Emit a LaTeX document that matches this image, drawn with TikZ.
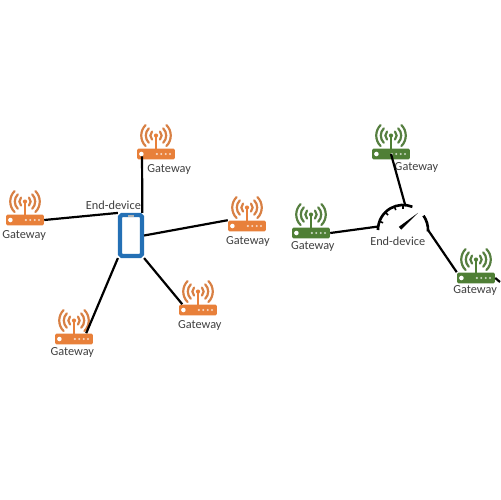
\documentclass[tikz,border=0pt]{standalone}
\usepackage{fontspec}
\setmainfont{Carlito}
\usepackage{xcolor}
\usetikzlibrary{arrows.meta, positioning}
\definecolor{gwOrange}{HTML}{E8803A}
\definecolor{gwGreen}{HTML}{4F7F35}
\definecolor{phoneBlue}{HTML}{2470B5}
\definecolor{textGray}{HTML}{404040}

\tikzset{
  pics/gateway/.style={code={
    \node[gwbody, fill=#1] (-body) at (0,0) {};
    \fill[white] (-8.3pt,0) circle (1.3pt);
    \foreach \dotx in {0.5,3,5.5,8}
      \fill[white!70!#1] (\dotx pt,0) circle (0.65pt);
    \draw[#1, line width=1.2pt] (0,2.8pt) -- (0,10.5pt);
    \fill[#1] (0,10.5pt) circle (1.2pt);
    \foreach \rad in {3.2,5.8,8.4} {
      \draw[#1!85!gray, line width=1.25pt, line cap=round]
        (0,10.5pt) ++(45:\rad pt) arc[start angle=45, end angle=-45, radius=\rad pt];
      \draw[#1!85!gray, line width=1.25pt, line cap=round]
        (0,10.5pt) ++(135:\rad pt) arc[start angle=135, end angle=225, radius=\rad pt];
    }
  }},
}

\begin{document}
\begin{tikzpicture}[
  x=0.02cm, y=-0.02cm,
  gwbody/.style={rounded corners=0.8pt, minimum width=21.5pt, minimum height=6.2pt, inner sep=0pt},
  gwlabel/.style={font=\fontsize{7}{8}\selectfont, text=textGray, inner sep=0pt},
  phonebox/.style={draw=phoneBlue, fill=white, line width=2.4pt, rounded corners=1pt,
                   minimum width=12.5pt, minimum height=23.3pt, inner sep=0pt},
  gaugebox/.style={circle, minimum size=28.5pt, inner sep=0pt, outer sep=0pt},
  wire/.style={black, line width=1.25pt},
]
  \useasboundingbox (0,0) rectangle (500,500);

  % left group
  \pic (gwtop)   at (156,154) {gateway=gwOrange};
  \pic (gwleft)  at (25,220)  {gateway=gwOrange};
  \pic (gwright) at (247,226) {gateway=gwOrange};
  \pic (gwlow)   at (74,339)  {gateway=gwOrange};
  \pic (gwmid)   at (198,310) {gateway=gwOrange};
  \node[phonebox] (phone) at (131,235.5) {};
  \fill[gray!60] (128,215) rectangle (134,217);

  \node[gwlabel, below=2.5pt of gwtop-body, xshift=7.5pt]   (lbtop)   {Gateway};
  \node[gwlabel, below=2.5pt of gwleft-body, xshift=-0.5pt] (lbleft)  {Gateway};
  \node[gwlabel, below=2.5pt of gwright-body, xshift=0.5pt] (lbright) {Gateway};
  \node[gwlabel, below=1.5pt of gwlow-body, xshift=-1pt]    (lblow)   {Gateway};
  \node[gwlabel, below=2.5pt of gwmid-body, xshift=1pt]     (lbmid)   {Gateway};
  \node[gwlabel, above=1.5pt of phone, xshift=-10pt]        (lbphone) {End-device};

  \draw[wire] ([shift={(3pt,2pt)}]gwtop-body.south west) -- ([xshift=-1pt]phone.north east);
  \draw[wire] (gwleft-body.east) -- (phone.north west);
  \draw[wire] (gwright-body.north west) -- (phone.east);
  \draw[wire] ([xshift=-4pt]gwlow-body.north east) -- (phone.south west);
  \draw[wire] ([xshift=2pt]gwmid-body.north west) -- (phone.south east);

  % right group
  \pic (gwgtop)   at (391,154) {gateway=gwGreen};
  \pic (gwgleft)  at (311,233) {gateway=gwGreen};
  \pic (gwgright) at (476,278) {gateway=gwGreen};
  \node[gaugebox] (gauge) at (403,230) {};
  \coordinate (offpage) at (500,282);

  \draw[black, line width=1.5pt] (gauge.180) arc[start angle=180, end angle=68, radius=14.25pt];
  \draw[black, line width=1.5pt] (gauge.35) arc[start angle=35, end angle=-3, radius=14.25pt];
  \foreach \ang in {160,135,110,90}
    \draw[black, line width=0.9pt] (gauge.\ang) -- ([shift={(\ang:-2.2pt)}]gauge.\ang);
  \fill[black] ([shift={(-2.4pt,1.8pt)}]gauge.center) -- ([shift={(8.6pt,9.8pt)}]gauge.center)
    -- ([shift={(-1pt,0.2pt)}]gauge.center) -- cycle;

  \node[gwlabel, below=1.5pt of gwgtop-body, xshift=14.5pt]  (lbgtop)   {Gateway};
  \node[gwlabel, below=1.5pt of gwgleft-body, xshift=1pt]    (lbgleft)  {Gateway};
  \node[gwlabel, below=1pt of gwgright-body, xshift=-0.5pt]  (lbgright) {Gateway};
  \node[gwlabel, below=3.5pt of gauge.center, xshift=-3pt]   (lbgauge)  {End-device};

  \draw[wire] (gwgtop-body.center) -- (gauge.85);
  \draw[wire] (gwgleft-body.east) -- (gauge.172);
  \draw[wire] (gwgright-body.north west) -- (gauge.0);
  \draw[wire] (gwgright-body.east) -- (offpage);
\end{tikzpicture}
\end{document}
